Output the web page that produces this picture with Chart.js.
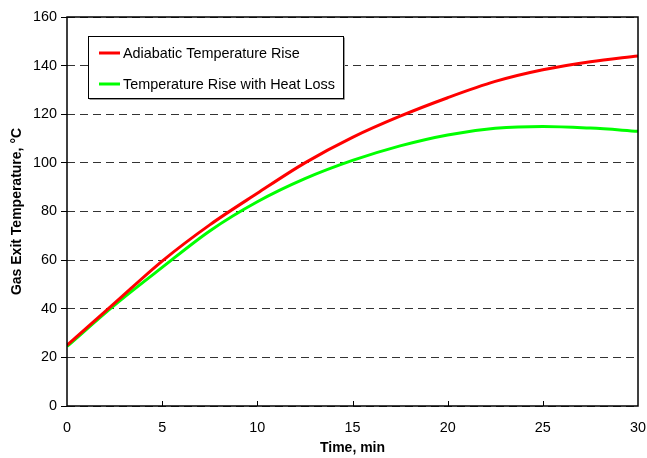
<!DOCTYPE html>
<html>
<head>
<meta charset="utf-8">
<script src="https://cdn.jsdelivr.net/npm/chart.js@4.4.1/dist/chart.umd.min.js"></script>
<style>
html,body{margin:0;padding:0;background:#fff;}
#wrap{width:647px;height:458px;}
</style>
</head>
<body>
<div id="wrap"><canvas id="c" width="647" height="458"></canvas></div>
<script>
const timeMin = [0, 2.5, 5, 7.5, 10, 12.5, 15, 17.5, 20, 22.5, 25, 27.5, 30];
const adiabatic = [25, 42.3, 59.6, 74.5, 87.5, 100, 110.5, 119.2, 126.8, 133.5, 138.3, 141.6, 144];
const heatLoss = [24.5, 41.5, 57, 72, 84, 93.5, 101, 107, 111.5, 114.2, 115, 114.3, 113];
const seriesLabels = ['Adiabatic Temperature Rise', 'Temperature Rise with Heat Loss'];
const xTicks = [0, 5, 10, 15, 20, 25, 30];
const yTicks = [0, 20, 40, 60, 80, 100, 120, 140, 160];

const FONT = '"Liberation Sans", Arial, sans-serif';

const framePlugin = {
  id: 'frame',
  afterDraw(chart) {
    const ctx = chart.ctx;
    const a = chart.chartArea;
    const xs = chart.scales.x;
    ctx.save();
    // inner x ticks
    ctx.strokeStyle = '#000';
    ctx.lineWidth = 1;
    xTicks.forEach(v => {
      if (v === 0 || v === 30) return;
      const px = Math.round(xs.getPixelForValue(v)) + 0.5;
      ctx.beginPath();
      ctx.moveTo(px, a.bottom);
      ctx.lineTo(px, a.bottom - 5);
      ctx.stroke();
    });
    // frame
    ctx.lineWidth = 1.5;
    ctx.strokeStyle = '#000';
    ctx.strokeRect(a.left, a.top, a.right - a.left, a.bottom - a.top);
    // legend box
    const bx = 88.5, by = 36.5, bw = 255, bh = 62;
    ctx.fillStyle = '#fff';
    ctx.fillRect(bx, by, bw, bh);
    ctx.strokeStyle = '#999';
    ctx.lineWidth = 1;
    ctx.beginPath();
    ctx.moveTo(bx + bw + 1, by + 1);
    ctx.lineTo(bx + bw + 1, by + bh + 1);
    ctx.lineTo(bx + 1, by + bh + 1);
    ctx.stroke();
    ctx.strokeStyle = '#000';
    ctx.strokeRect(bx, by, bw, bh);
    const ds = chart.data.datasets;
    const rows = [53, 84];
    ctx.font = '14.4px ' + FONT;
    ctx.textBaseline = 'middle';
    ctx.textAlign = 'left';
    ds.forEach((d, i) => {
      ctx.strokeStyle = d.borderColor;
      ctx.lineWidth = 3;
      ctx.beginPath();
      ctx.moveTo(99, rows[i]);
      ctx.lineTo(120, rows[i]);
      ctx.stroke();
      ctx.fillStyle = '#000';
      ctx.fillText(d.label, 123, rows[i] + 1);
    });
    ctx.restore();
  }
};

new Chart(document.getElementById('c'), {
  type: 'line',
  data: {
    datasets: [
      {
        label: seriesLabels[0],
        data: timeMin.map((t, i) => ({x: t, y: adiabatic[i]})),
        borderColor: '#ff0000',
        borderWidth: 3,
        pointRadius: 0,
        cubicInterpolationMode: 'monotone',
        fill: false
      },
      {
        label: seriesLabels[1],
        data: timeMin.map((t, i) => ({x: t, y: heatLoss[i]})),
        borderColor: '#00ff00',
        borderWidth: 3,
        pointRadius: 0,
        cubicInterpolationMode: 'monotone',
        fill: false
      }
    ]
  },
  options: {
    responsive: false,
    animation: false,
    layout: {padding: {left: 0, right: 9, top: 17, bottom: 0}},
    plugins: {legend: {display: false}, tooltip: {enabled: false}},
    scales: {
      x: {
        type: 'linear',
        min: 0, max: 30,
        afterBuildTicks: s => { s.ticks = xTicks.map(v => ({value: v})); },
        afterFit: s => { s.height = 52; s.paddingRight = 0; s.paddingLeft = 0; },
        grid: {display: false},
        border: {display: false},
        ticks: {color: '#000', font: {family: FONT, size: 14.4}, padding: 5, maxRotation: 0},
        title: {display: true, text: 'Time, min', color: '#000', font: {family: FONT, size: 14, weight: 'bold'}, padding: {top: 2, bottom: 1}}
      },
      y: {
        min: 0, max: 160,
        afterBuildTicks: s => { s.ticks = yTicks.map(v => ({value: v})); },
        afterFit: s => { s.width = 67; s.paddingTop = 0; s.paddingBottom = 0; },
        grid: {color: '#333', lineWidth: 1, tickLength: 6, tickColor: '#000', tickBorderDash: [], drawTicks: true},
        border: {display: false, dash: [8, 5]},
        ticks: {color: '#000', font: {family: FONT, size: 14.4}, padding: 4},
        title: {display: true, text: 'Gas Exit Temperature, °C', color: '#000', font: {family: FONT, size: 14, weight: 'bold'}, padding: {top: 9, bottom: 2}}
      }
    }
  },
  plugins: [framePlugin]
});
</script>
</body>
</html>
